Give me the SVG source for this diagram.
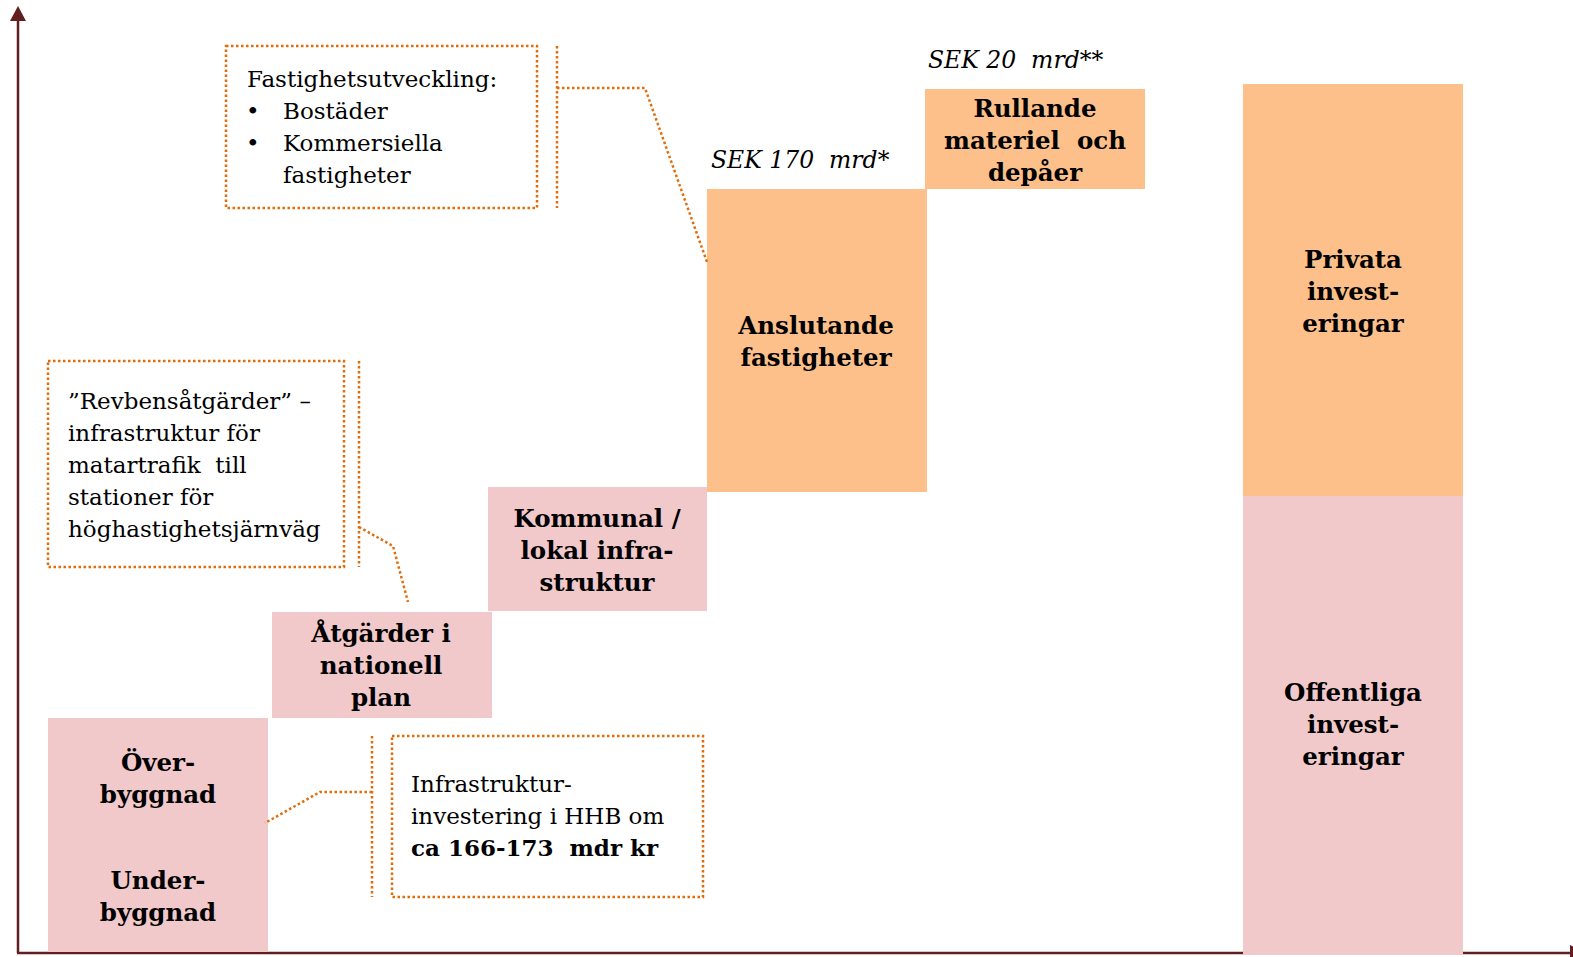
<svg xmlns="http://www.w3.org/2000/svg" width="1573" height="957" viewBox="0 0 1573 957">
<style>
text { white-space: pre; fill: #000; }
.pink { fill: #F2C9CA; }
.orange { fill: #FDC08A; }
.dot { fill: none; stroke: #E36C0A; stroke-width: 2.5; stroke-dasharray: 2.5 2.5; }
.axis { stroke: #61201F; stroke-width: 2.5; fill: none; }
.ahead { fill: #61201F; }
.b { font-family: "DejaVu Serif", "Liberation Serif", serif; font-weight: bold; font-size: 24.5px; text-anchor: middle; }
.r { font-family: "DejaVu Serif", "Liberation Serif", serif; font-size: 23px; }
.rb { font-family: "DejaVu Serif", "Liberation Serif", serif; font-size: 23px; font-weight: bold; }
.i { font-family: "DejaVu Serif", "Liberation Serif", serif; font-size: 23.5px; font-style: italic; }
</style>

<g id="axes">
  <line class="axis" x1="18" y1="953" x2="18" y2="20"/>
  <polygon class="ahead" points="18,6 26,21 10,21"/>
  <line class="axis" x1="17" y1="953" x2="1572" y2="953"/>
  <polygon class="ahead" points="1570,945 1586,953 1570,961"/>
</g>

<g id="overbyggnad-underbyggnad">
  <rect class="pink" x="48" y="718" width="220" height="234"/>
  <text class="b" x="158" y="771">Över-</text>
  <text class="b" x="158" y="803">byggnad</text>
  <text class="b" x="158" y="889">Under-</text>
  <text class="b" x="158" y="921">byggnad</text>
</g>

<g id="atgarder-nationell-plan">
  <rect class="pink" x="272" y="612" width="220" height="106"/>
  <text class="b" x="381" y="642">Åtgärder i</text>
  <text class="b" x="381" y="674">nationell</text>
  <text class="b" x="381" y="706">plan</text>
</g>

<g id="kommunal-infrastruktur">
  <rect class="pink" x="488" y="487" width="219" height="124"/>
  <text class="b" x="597" y="527">Kommunal /</text>
  <text class="b" x="597" y="559">lokal infra-</text>
  <text class="b" x="597" y="591">struktur</text>
</g>

<g id="anslutande-fastigheter">
  <rect class="orange" x="707" y="189" width="220" height="303"/>
  <text class="b" x="816" y="334">Anslutande</text>
  <text class="b" x="816" y="366">fastigheter</text>
  <text class="i" x="711" y="168">SEK 170  mrd*</text>
</g>

<g id="rullande-materiel">
  <rect class="orange" x="925" y="89" width="220" height="100"/>
  <text class="b" x="1035" y="117">Rullande</text>
  <text class="b" x="1035" y="149">materiel  och</text>
  <text class="b" x="1035" y="181">depåer</text>
  <text class="i" x="928" y="68">SEK 20  mrd**</text>
</g>

<g id="privata-investeringar">
  <rect class="orange" x="1243" y="84" width="220" height="412"/>
  <text class="b" x="1353" y="268">Privata</text>
  <text class="b" x="1353" y="300">invest-</text>
  <text class="b" x="1353" y="332">eringar</text>
</g>

<g id="offentliga-investeringar">
  <rect class="pink" x="1243" y="496" width="220" height="459"/>
  <text class="b" x="1353" y="701">Offentliga</text>
  <text class="b" x="1353" y="733">invest-</text>
  <text class="b" x="1353" y="765">eringar</text>
</g>

<g id="fastighetsutveckling">
  <rect class="dot" x="226" y="46" width="311" height="162"/>
  <text class="r" x="247" y="87">Fastighetsutveckling:</text>
  <text class="r" x="246" y="119">•</text>
  <text class="r" x="283" y="119">Bostäder</text>
  <text class="r" x="246" y="151">•</text>
  <text class="r" x="283" y="151">Kommersiella</text>
  <text class="r" x="283" y="183">fastigheter</text>
</g>

<g id="revbensatgarder">
  <rect class="dot" x="48" y="361" width="296" height="206"/>
  <text class="r" x="68" y="409">”Revbensåtgärder” –</text>
  <text class="r" x="68" y="441">infrastruktur för</text>
  <text class="r" x="68" y="473">matartrafik  till</text>
  <text class="r" x="68" y="505">stationer för</text>
  <text class="r" x="68" y="537">höghastighetsjärnväg</text>
</g>

<g id="infrastrukturinvestering">
  <rect class="dot" x="392" y="736" width="311" height="161"/>
  <text class="r" x="411" y="792">Infrastruktur-</text>
  <text class="r" x="411" y="824">investering i HHB om</text>
  <text class="rb" x="411" y="856">ca 166-173  mdr kr</text>
</g>

<g id="connectors">
  <line class="dot" x1="557" y1="46" x2="557" y2="208"/>
  <polyline class="dot" points="557,88 645,88 707,262"/>
  <line class="dot" x1="359" y1="361" x2="359" y2="567"/>
  <polyline class="dot" points="359,527 393,546 408,602"/>
  <line class="dot" x1="372" y1="736" x2="372" y2="897"/>
  <polyline class="dot" points="372,792 320,792 265,823"/>
</g>
</svg>
